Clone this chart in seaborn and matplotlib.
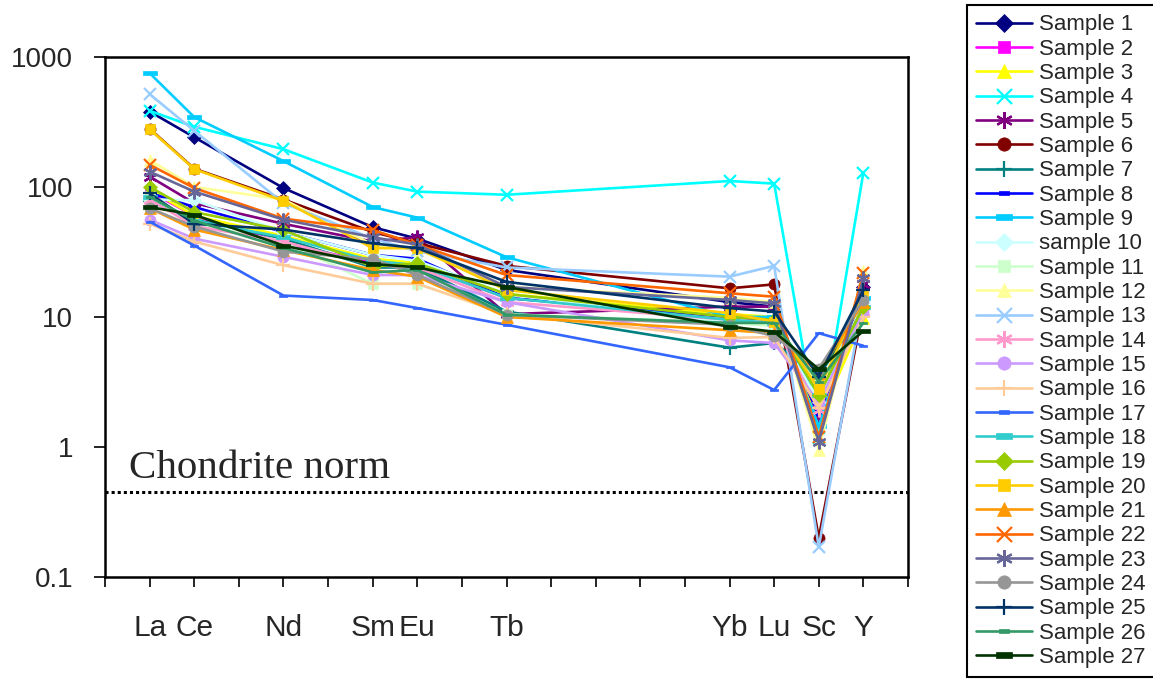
import numpy as np
import pandas as pd
import seaborn as sns
import matplotlib.pyplot as plt
from matplotlib.ticker import NullLocator


# element axis: positions follow the spacing of the original sheet
elements = ['La', 'Ce', 'Nd', 'Sm', 'Eu', 'Tb', 'Yb', 'Lu', 'Sc', 'Y']
element_pos = [0, 1, 3, 5, 6, 8, 13, 14, 15, 16]
chondrite_norm = 0.45

sample_names = ['Sample %d' % i for i in range(1, 28)]
sample_names[9] = 'sample 10'

#            La    Ce    Nd    Sm    Eu    Tb    Yb    Lu    Sc    Y
sample_1  = [380,  241,  98,   49,   40,   23,   13,   12,   1.7,  17]
sample_2  = [92,   60,   37,   26,   25,   14,   10,   9.5,  1.8,  12]
sample_3  = [95,   60,   42,   28,   26,   15,   10.5, 10,   1.6,  9.8]
sample_4  = [385,  290,  195,  108,  92,   87,   111,  106,  1.17, 129]
sample_5  = [120,  75,   52,   38,   41,   10.5, 12,   12,   1.7,  18]
sample_6  = [280,  138,  80,   45,   37,   24.7, 16.6, 17.8, 0.2,  12]
sample_7  = [78,   56,   40,   24,   24,   11,   5.8,  6.3,  3.5,  12]
sample_8  = [90,   70,   45,   30,   28,   14,   10,   9.5,  1.8,  14]
sample_9  = [750,  344,  158,  70,   58,   28.8, 10,   10,   1.45, 14]
sample_10 = [80,   79,   45,   30,   27,   15,   9,    9,    2.2,  13]
sample_11 = [85,   52,   38,   18,   18,   10.5, 9,    8.5,  3.0,  11]
sample_12 = [161,  100,  80,   36,   33,   17,   14,   13,   0.95, 22.7]
sample_13 = [517,  270,  75,   40,   32,   24,   20.4, 24.7, 0.17, 14]
sample_14 = [80,   50,   38,   25,   24,   13,   9.5,  9,    1.93, 11]
sample_15 = [56,   40,   29,   21,   21,   13,   6.6,  6.3,  2.2,  11]
sample_16 = [52,   38,   25,   18,   18,   10.5, 6.9,  7,    2.0,  10]
sample_17 = [54,   35.4, 14.6, 13.5, 11.7, 8.7,  4.1,  2.74, 7.5,  6.0]
sample_18 = [84,   55,   41,   27,   25,   14,   9.5,  9,    2.5,  12]
sample_19 = [100,  64,   46.6, 24.4, 25.8, 15,   10,   9.5,  2.5,  12]
sample_20 = [278,  137,  78,   33.8, 33.8, 16.1, 10.7, 9.2,  2.78, 15]
sample_21 = [68.6, 47,   32.7, 23,   20.4, 10,   7.9,  7.5,  3.7,  13]
sample_22 = [148,  98,   57,   46.6, 36,   21,   15.2, 14.3, 1.2,  21.7]
sample_23 = [131,  92,   56,   41,   36,   17,   13.5, 12.7, 1.1,  19.8]
sample_24 = [68.6, 49.5, 31.8, 27.8, 21,   10.4, 8.7,  7.1,  4.0,  13.5]
sample_25 = [89,   52,   47,   36.8, 33.8, 18.6, 11.7, 11,   3.47, 16.1]
sample_26 = [84,   55,   34,   22,   23,   10.4, 9,    9,    3.18, 9.0]
sample_27 = [70,   61,   35.4, 25.5, 24.1, 17,   8.4,  7.7,  3.96, 7.8]

samples = [sample_1, sample_2, sample_3, sample_4, sample_5, sample_6,
           sample_7, sample_8, sample_9, sample_10, sample_11, sample_12,
           sample_13, sample_14, sample_15, sample_16, sample_17, sample_18,
           sample_19, sample_20, sample_21, sample_22, sample_23, sample_24,
           sample_25, sample_26, sample_27]

colors = ['#000080', '#FF00FF', '#FFFF00', '#00FFFF', '#800080', '#800000',
          '#008080', '#0000FF', '#00CCFF', '#CCFFFF', '#CCFFCC', '#FFFF99',
          '#99CCFF', '#FF99CC', '#CC99FF', '#FFCC99', '#3366FF', '#33CCCC',
          '#99CC00', '#FFCC00', '#FF9900', '#FF6600', '#666699', '#969696',
          '#003366', '#339966', '#003300']

# excel-ish marker cycle
dash = [(-1, -0.32), (1, -0.32), (1, 0.32), (-1, 0.32), (-1, -0.32)]
marker_cycle = [('D', 7.5), ('s', 7.5), ('^', 8.5), ('x', 9), ((6, 2, 0), 10),
                ('o', 8), ('+', 10), (dash, 6), (dash, 10)]
line_markers = ['x', '+', (6, 2, 0)]


sns.set_style('ticks')
plt.rcParams['font.family'] = ['Liberation Sans', 'DejaVu Sans']

fig = plt.figure(figsize=(11.53, 6.82), dpi=100)
ax = fig.add_axes([0.0911, 0.154, 0.6964, 0.7626])

for i, (name, vals) in enumerate(zip(sample_names, samples)):
    df = pd.DataFrame({'x': element_pos, 'y': vals})
    mk, ms = marker_cycle[i % 9]
    mew = 1.6 if isinstance(mk, (str, tuple)) and mk in line_markers else 0.5
    sns.lineplot(data=df, x='x', y='y', ax=ax, color=colors[i],
                 marker=mk, markersize=ms, markeredgecolor=colors[i],
                 markeredgewidth=mew, linewidth=1.9, label=name,
                 legend=False, zorder=3 + i * 0.01)

ax.axhline(chondrite_norm, color='black', ls=(0, (1, 1)), lw=2.2, zorder=2)
ax.text(-0.46, 0.58, 'Chondrite norm', fontsize=29.5,
        family=['Liberation Serif', 'DejaVu Serif'], va='baseline', ha='left')

ax.set_yscale('log')
ax.set_ylim(0.1, 1000)
ax.set_yticks([0.1, 1, 10, 100, 1000])
ax.set_yticklabels(['0.1', '1', '10', '100', '1000'])
ax.yaxis.set_minor_locator(NullLocator())

ax.set_xlim(-1, 17)
xt = list(range(-1, 18))
lab = {p: e for p, e in zip(element_pos, elements)}
ax.set_xticks(xt)
ax.set_xticklabels([lab.get(p, '') for p in xt], fontsize=21.5)
ax.set_xlabel('')
ax.set_ylabel('')

ax.tick_params(axis='y', labelsize=20, length=8, width=1.2, pad=15,
               direction='out', color='black')
ax.tick_params(axis='x', length=7, width=1.2, pad=20,
               direction='out', color='black')
for sp in ax.spines.values():
    sp.set_visible(True)
    sp.set_color('black')
    sp.set_linewidth(1.8)

handles, labels = ax.get_legend_handles_labels()
leg = ax.legend(handles, labels, loc='upper left',
                bbox_to_anchor=(967 / 1153, 1 - 5 / 682),
                bbox_transform=fig.transFigure, borderaxespad=0,
                fontsize=16, labelspacing=0.15, handlelength=2.5,
                handletextpad=0.3, borderpad=0.42, fancybox=False,
                framealpha=1, edgecolor='black', markerscale=1.2)
leg.get_frame().set_linewidth(1.5)

fig.savefig('out.png', dpi=100)
